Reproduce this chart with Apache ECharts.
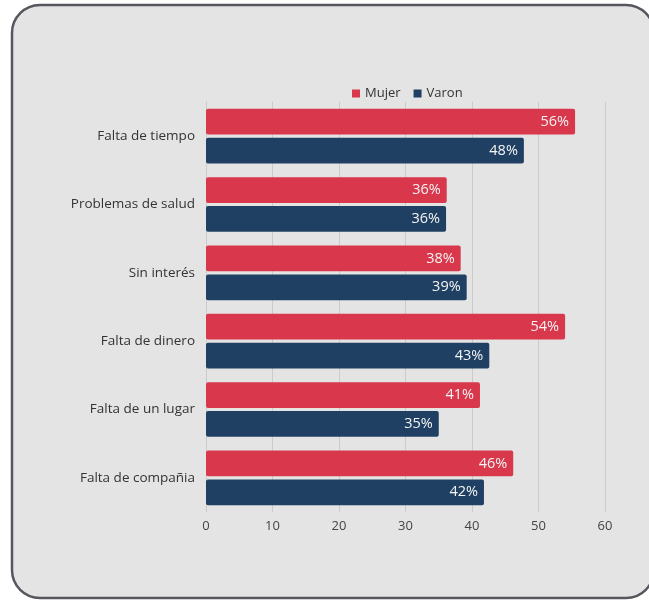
<!DOCTYPE html>
<html><head><meta charset="utf-8">
<script src="https://cdn.jsdelivr.net/npm/echarts@6/dist/echarts.min.js"></script>
<style>html,body{margin:0;padding:0;background:#fff}#c{width:649px;height:601px}</style>
</head><body><div id="c"></div>
<script>
const categories = ['Falta de tiempo','Problemas de salud','Sin interés','Falta de dinero','Falta de un lugar','Falta de compañia'];
const mujer = [55.5, 36.2, 38.3, 54.0, 41.2, 46.2];
const varon = [47.8, 36.1, 39.2, 42.6, 35.0, 41.8];
const xTicks = [0, 10, 20, 30, 40, 50, 60];
const FONT = '"Open Sans"';
const chart = echarts.init(document.getElementById('c'), null, {renderer:'canvas'});
const lbl = {show:true, position:'insideRight', distance:6, color:'#f4f4f4', fontSize:14.5, fontFamily:FONT,
  formatter: p => Math.round(p.value) + '%'};
chart.setOption({
  backgroundColor:'#ffffff',
  animation:false,
  graphic:[{type:'rect', z:-10, shape:{x:12, y:5, width:642, height:593, r:28},
    style:{fill:'#e4e4e4', stroke:'#56565e', lineWidth:2.5}}],
  legend:{top:82, left:347, itemWidth:8, itemHeight:8, itemGap:13, icon:'rect',
    itemStyle:{borderWidth:0},
    textStyle:{fontFamily:FONT, fontSize:13, color:'#333'}, data:['Mujer','Varon']},
  grid:{left:206, right:44, top:102, bottom:89, containLabel:false},
  xAxis:{type:'value', min:xTicks[0], max:xTicks[xTicks.length-1], interval:10,
    axisLine:{show:false}, axisTick:{show:false},
    splitLine:{show:true, lineStyle:{color:'#cbcbcb', width:1}},
    axisLabel:{color:'#444', fontSize:13, fontFamily:FONT, margin:8}},
  yAxis:{type:'category', data:categories, inverse:true,
    axisLine:{show:true, lineStyle:{color:'#cbcbcb'}}, axisTick:{show:false},
    axisLabel:{color:'#333', fontSize:13.5, fontFamily:FONT, margin:11}},
  series:[
    {name:'Mujer', type:'bar', data:mujer, barGap:'12%', barCategoryGap:'20%',
      itemStyle:{color:'#d9374b', borderRadius:2}, label:lbl},
    {name:'Varon', type:'bar', data:varon,
      itemStyle:{color:'#1f4063', borderRadius:2}, label:lbl}
  ]
});
</script></body></html>
